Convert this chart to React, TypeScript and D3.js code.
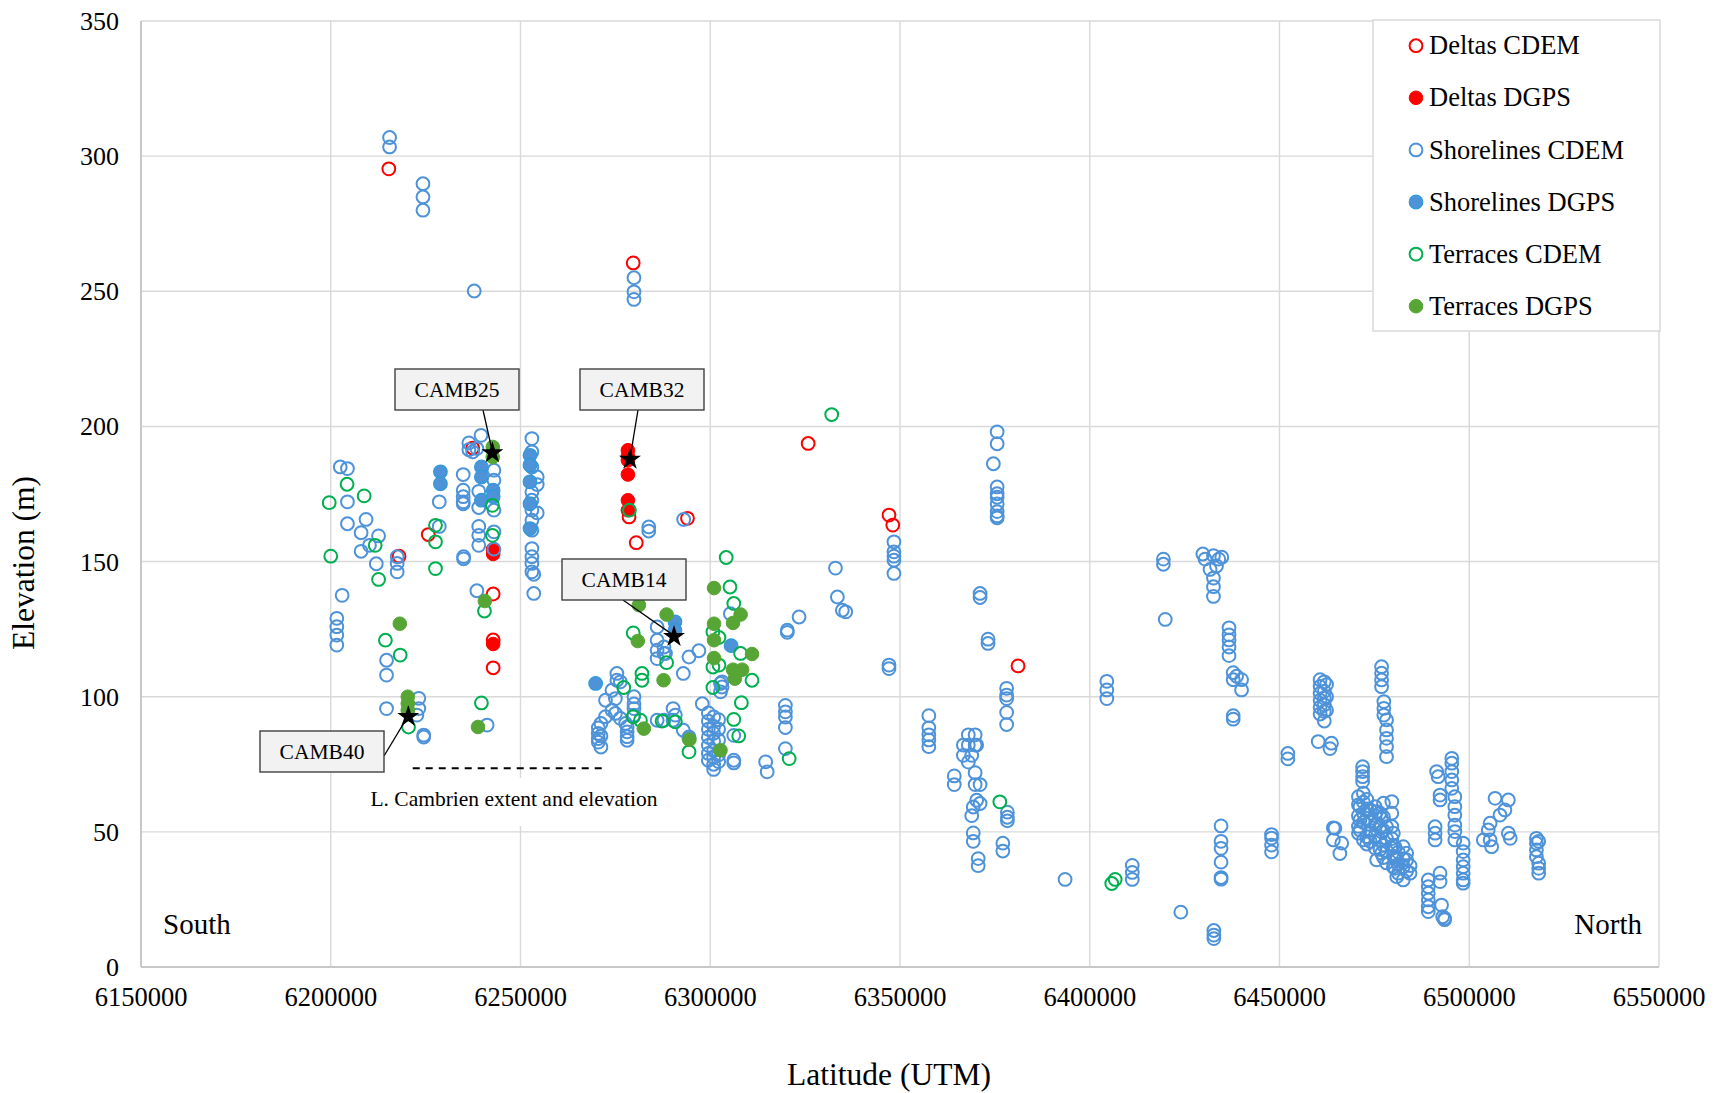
import React, { useEffect, useRef } from "react";
import * as d3 from "d3";

// [latitude (UTM), [elevations at that latitude]]
type Group = [number, number[]];

const deltasCdem: Group[] = [
  [6215300, [295.3]], [6218000, [152]], [6225700, [160]], [6237400, [192]],
  [6242800, [154.5, 138, 121, 110.7]], [6278600, [166.5]], [6279700, [260.5]],
  [6280500, [157]], [6294000, [166]], [6325800, [193.7]], [6347100, [167.2]],
  [6348100, [163.5]], [6381100, [111.4]],
];

const deltasDgps: Group[] = [
  [6278300, [191.2, 189, 187.5, 182.2, 172.7, 169]],
  [6242800, [154, 152.8, 119.5]],
];

const shorelinesCdem: Group[] = [
  [6201600, [129, 125.9, 122.8, 119.1]], [6202500, [185]], [6203000, [137.5]],
  [6204400, [184.4, 172.1, 164]], [6208000, [160.7, 153.8]], [6209300, [165.6]],
  [6210200, [156]], [6212000, [149.2]], [6212600, [159.5]], [6214700, [113.5, 108, 95.6]],
  [6215500, [306.9, 303.4]], [6217500, [151.8, 149.3, 146.2]], [6222700, [93.2]],
  [6223200, [99.4, 95.6]], [6224500, [85.8, 85.1]], [6224300, [289.8, 284.9, 280]],
  [6228600, [172.1, 163]], [6234900, [182.2, 176.4, 174, 172.1, 171.4]], [6235000, [151.8, 151]],
  [6236400, [193.9, 191.4]], [6237400, [190.6]], [6237800, [250.1]], [6238500, [191.8, 139.2]],
  [6239000, [176, 170, 163, 159.7, 156]], [6239600, [196.7]], [6241200, [89.5]],
  [6243000, [183.8, 180.1, 169, 161, 154.6]],
  [6253000, [195.5, 190.6, 185, 175.7, 172.7, 169, 165.3, 161.6, 154.8, 151.8, 149.3, 146.2]],
  [6254400, [181.3, 178.5, 168]], [6253500, [145.3, 138.2]],
  [6279900, [255, 249.8, 247]], [6283800, [162.8, 161.3]], [6293000, [165.6]],
  [6270500, [88.5, 86.4, 84.5, 83.2]], [6271200, [90.1, 85.5, 81.4]], [6272400, [98.7, 92.6]],
  [6274100, [102.4, 95]], [6275000, [99.3, 93.8]], [6275400, [108.6, 106.1]],
  [6276300, [105.5, 92]], [6277700, [90.1]], [6278100, [88.8, 87, 85.2, 83.9]],
  [6279900, [100, 97.3, 95.6, 93.2]], [6286000, [125.8, 120.9, 117.2, 114.1, 91.3]],
  [6287800, [116, 118.4, 91.3]], [6288200, [116]], [6290200, [95.6, 91.3]], [6290800, [93.2]],
  [6292900, [108.6, 87.6]], [6294400, [114.7, 85.1, 84.5]], [6297000, [117]], [6297900, [97.4]],
  [6299500, [94, 91, 88, 85, 82, 79, 76.5]], [6300900, [92.5, 89, 86.5, 83.5, 80, 77.5, 75, 73.1]],
  [6302200, [91.5, 88, 84, 78.5, 76]], [6302700, [104.9, 101.8]], [6303100, [105.5, 103.6]],
  [6305300, [130.7]], [6306200, [85.7, 76.5, 75.5]], [6314600, [75.9]], [6315000, [72.2]],
  [6319800, [96.8, 94.4, 92.5, 88.6, 80.8]], [6320300, [124.6, 123.8]], [6323400, [129.5]],
  [6333000, [147.6]], [6333500, [136.9]], [6334800, [132]], [6335700, [131.4]],
  [6347100, [111.7, 110.4]], [6348400, [157.3, 153.6, 152, 150.5, 145.6]],
  [6357600, [93, 88.5, 85.9, 84, 81.5]], [6364300, [70.7, 67.5]], [6366700, [82.1, 78.3]],
  [6368000, [85.9, 82.1, 75.8]], [6368900, [78.3, 56]], [6369300, [59.2, 49.6, 46.5]],
  [6369800, [85.9, 82.1, 71.9, 67.5]], [6370200, [82.1, 61.7]], [6370600, [40.1, 37.5]],
  [6371100, [138.2, 136.7, 67.5, 60.5]], [6373200, [121.3, 119.7]], [6374600, [186.2]],
  [6375600, [198, 193.6, 177.6, 175.1, 173.8, 171.3, 168.5, 166.9, 166.2]],
  [6377100, [45.8, 42.9]], [6378100, [103.1, 100.6, 99.3, 94.2, 89.7]], [6378300, [57.3, 55.4, 54.1]],
  [6393500, [32.4]], [6404500, [105.7, 102.5, 99.3]], [6411200, [37.6, 35, 32.4]],
  [6419400, [150.9, 149]], [6419900, [128.6]], [6424000, [20.3]], [6429800, [152.8]],
  [6430400, [150.9]], [6431700, [147.1]], [6432600, [152.2, 143.9, 140.7, 137.1]],
  [6432700, [13.5, 11.8, 10.5]], [6433400, [148.4]], [6434000, [150.9]], [6434800, [151.6]],
  [6434600, [52.2, 46.5, 43.9, 38.8, 33.1, 32.5]], [6436700, [125.5, 122.9, 121, 118.4, 115.2]],
  [6437800, [108.9, 106.3, 93, 91.7]], [6438700, [107.6]], [6440000, [106.3, 102.5]],
  [6447900, [49, 47.7, 45.1, 42.6]], [6452200, [79, 77]], [6460200, [83.4]],
  [6460700, [106.3, 103.8, 101.2, 98.7, 96.1, 93.6]], [6461800, [105.5, 102, 99.5, 97, 94.5, 91]],
  [6462400, [104.5, 100, 95]], [6463300, [80.8]], [6463700, [82.8]], [6464200, [51.5, 47]],
  [6464600, [51.3]], [6465900, [42]], [6466400, [45.8]], [6471900, [74.1, 72.3, 70.4, 68.6]],
  [6470800, [63, 60, 56, 52, 49.5]], [6471200, [59.3, 54.4, 50.7]], [6472100, [64.3, 61, 57, 53.5, 47]],
  [6473000, [62, 58.5, 55, 48.2, 45.5]], [6473900, [58.1, 54, 50.5, 46.5]],
  [6475200, [59.3, 56, 52.5, 48.5, 44]], [6475600, [57.5, 53, 39.6]], [6476500, [56.9, 52, 47, 43.5]],
  [6476900, [55, 50, 42.1]], [6477400, [60.6, 55.5, 50.5, 45, 40.5]], [6478200, [51.9, 47.5, 43, 38.5]],
  [6479600, [61.2, 56.9, 52, 47.5, 44]], [6480000, [49.5, 45, 41, 37]], [6480400, [44.5, 40.5, 36.5]],
  [6480900, [39.6, 33.4]], [6481300, [34.7, 38, 42.5]], [6482600, [44.5, 37.1, 32.2, 40]],
  [6483500, [42.1, 39.6, 35.5]], [6484400, [34.7, 37.5]],
  [6476900, [111.1, 108.7, 106.2, 103.7]], [6477500, [98.2, 95.7, 93.2]],
  [6478200, [91.4, 87.7, 84.6, 81.5, 77.8]],
  [6489200, [32.2, 29.7, 27.3, 24.8, 22.3, 20.5]], [6491000, [51.9, 49.5, 47]], [6491400, [72.3]],
  [6491800, [70.4]], [6492300, [63.6, 61.8, 34.7, 31.6]], [6492700, [22.9]], [6493000, [18.6]],
  [6493500, [18, 17.5]], [6495400, [77.2, 75.4, 72.3, 69.2, 66.1]],
  [6496200, [63, 59.3, 56.2, 52.5, 50.1, 47]], [6498400, [45.8, 42.7, 39.6, 37.1, 34.7, 32.2, 31]],
  [6503700, [47]], [6505000, [50.7]], [6505500, [53.2, 47]], [6505900, [44.5]], [6506800, [62.4]],
  [6508100, [56.2]], [6509400, [58.1]], [6510300, [61.8, 49.5]], [6510800, [47.6]],
  [6517700, [47.6, 45.8, 43.3, 40.8]], [6518300, [46.5, 38.4, 36.5, 34.7]],
];

const shorelinesDgps: Group[] = [
  [6228900, [183.2, 178.8]], [6239700, [185, 181.3, 172.7]], [6242800, [176.4, 174]],
  [6252500, [189.3, 185.7, 179.5, 171.4, 162.2]], [6269800, [104.9]],
  [6290700, [127.7, 124.6]], [6305500, [118.9]],
];

const terracesCdem: Group[] = [
  [6199600, [171.8]], [6200000, [152]], [6204300, [178.6]], [6208800, [174.3]], [6211700, [156]],
  [6212600, [143.4]], [6214400, [120.9]], [6218300, [115.4]], [6220500, [88.8]],
  [6227600, [163.4, 157.3, 147.4]], [6239700, [97.7]], [6240500, [131.7]], [6242600, [170.8, 159.7]],
  [6278700, [169]], [6277200, [103.4]], [6279700, [123.6, 92.6]], [6281600, [91.3]],
  [6282000, [108.6, 106.1]], [6287300, [91]], [6288500, [112.6]], [6290800, [90.7]],
  [6294400, [79.6]], [6300700, [124, 111, 103.4]], [6302300, [121.9, 111.7]], [6304200, [151.5]],
  [6305200, [140.6]], [6306200, [134.5, 91.6]], [6307500, [85.5]], [6308000, [116]],
  [6308200, [97.8]], [6311000, [106.1]], [6320800, [77.1]], [6332000, [204.4]], [6376300, [61.1]],
  [6405800, [30.9]], [6406700, [32.4]],
];

const terracesDgps: Group[] = [
  [6218200, [127]], [6220300, [100, 97.5, 95]], [6238800, [88.8]], [6240600, [135.4]],
  [6242700, [192.4, 188.7]], [6280900, [120.6]], [6281200, [133.9]], [6282500, [88.2]],
  [6287700, [106.1]], [6288500, [130.4]], [6294500, [84.1]], [6301000, [140.2, 127, 120.9, 114.3]],
  [6302700, [80.2]], [6306000, [127.3, 110]], [6306500, [106.7]], [6308000, [130.4]],
  [6308400, [110]], [6311000, [115.8]],
];

const sites = [
  { name: "CAMB25", lat: 6242600, elev: 190.6 },
  { name: "CAMB32", lat: 6278850, elev: 188.2 },
  { name: "CAMB14", lat: 6290450, elev: 122.6 },
  { name: "CAMB40", lat: 6220430, elev: 93 },
];

const cambrien = { from: 6221600, to: 6271600, elev: 73.5, label: "L. Cambrien extent and elevation" };

const xTicks = [6150000, 6200000, 6250000, 6300000, 6350000, 6400000, 6450000, 6500000, 6550000];
const yTicks = [0, 50, 100, 150, 200, 250, 300, 350];

const FONT = "'Liberation Serif', 'Times New Roman', serif";

const App = () => {
  const ref = useRef<SVGSVGElement>(null);

  useEffect(() => {
    const svg = d3.select(ref.current);
    svg.selectAll("*").remove();

    const x = d3.scaleLinear().domain([6150000, 6550000]).range([141, 1659]);
    const y = d3.scaleLinear().domain([0, 350]).range([967, 21]);

    const series = [
      { name: "Deltas CDEM", data: deltasCdem, fill: "none", stroke: "#FF0000", sw: 2, r: 6.4 },
      { name: "Deltas DGPS", data: deltasDgps, fill: "#FF0000", stroke: "#FF0000", sw: 1, r: 6.8 },
      { name: "Shorelines CDEM", data: shorelinesCdem, fill: "none", stroke: "#4E93D9", sw: 2, r: 6.4 },
      { name: "Shorelines DGPS", data: shorelinesDgps, fill: "#4E92D8", stroke: "#2E9BD8", sw: 1.2, r: 6.8 },
      { name: "Terraces CDEM", data: terracesCdem, fill: "none", stroke: "#00B050", sw: 2, r: 6.4 },
      { name: "Terraces DGPS", data: terracesDgps, fill: "#57A635", stroke: "#57A635", sw: 1, r: 6.8 },
    ];

    // grid
    const grid = svg.append("g");
    grid.selectAll("line.v")
      .data(xTicks)
      .join("line")
      .attr("x1", d => x(d)).attr("x2", d => x(d))
      .attr("y1", y(0)).attr("y2", y(350))
      .attr("stroke", "#D9D9D9").attr("stroke-width", 1.4);
    grid.selectAll("line.h")
      .data(yTicks)
      .join("line")
      .attr("x1", x(6150000)).attr("x2", x(6550000))
      .attr("y1", d => y(d)).attr("y2", d => y(d))
      .attr("stroke", "#D9D9D9").attr("stroke-width", 1.4);
    grid.append("line")
      .attr("x1", x(6150000)).attr("x2", x(6550000))
      .attr("y1", y(0)).attr("y2", y(0))
      .attr("stroke", "#C8C8C8").attr("stroke-width", 2);
    grid.append("line")
      .attr("x1", x(6150000)).attr("x2", x(6150000))
      .attr("y1", y(0)).attr("y2", y(350))
      .attr("stroke", "#C8C8C8").attr("stroke-width", 2);

    // tick labels
    svg.append("g")
      .style("font", `26.5px ${FONT}`)
      .selectAll("text")
      .data(xTicks)
      .join("text")
      .attr("x", d => x(d)).attr("y", 1006)
      .attr("text-anchor", "middle")
      .text(d => d);
    svg.append("g")
      .style("font", `26px ${FONT}`)
      .selectAll("text")
      .data(yTicks)
      .join("text")
      .attr("x", 119).attr("y", d => y(d) + 9)
      .attr("text-anchor", "end")
      .text(d => d);

    // axis titles
    svg.append("text")
      .attr("x", 889).attr("y", 1085)
      .attr("text-anchor", "middle")
      .style("font", `31.5px ${FONT}`)
      .text("Latitude (UTM)");
    svg.append("text")
      .attr("transform", "translate(34,563) rotate(-90)")
      .attr("text-anchor", "middle")
      .style("font", `31.5px ${FONT}`)
      .text("Elevation (m)");

    svg.append("text").attr("x", 163).attr("y", 934)
      .style("font", `29px ${FONT}`).text("South");
    svg.append("text").attr("x", 1642).attr("y", 934)
      .attr("text-anchor", "end")
      .style("font", `29px ${FONT}`).text("North");

    // L. Cambrien line + label
    svg.append("rect")
      .attr("x", 368).attr("y", 778).attr("width", 292).attr("height", 48)
      .attr("fill", "#fff");
    svg.append("line")
      .attr("x1", x(cambrien.from)).attr("x2", x(cambrien.to))
      .attr("y1", y(cambrien.elev)).attr("y2", y(cambrien.elev))
      .attr("stroke", "#000").attr("stroke-width", 2)
      .attr("stroke-dasharray", "7 6");
    svg.append("text")
      .attr("x", 514).attr("y", 806)
      .attr("text-anchor", "middle")
      .style("font", `21.5px ${FONT}`)
      .text(cambrien.label);

    // points
    series.forEach(s => {
      const pts = s.data.flatMap(([lat, elevs]) => elevs.map(e => [lat, e]));
      svg.append("g")
        .selectAll("circle")
        .data(pts)
        .join("circle")
        .attr("cx", d => x(d[0]))
        .attr("cy", d => y(d[1]))
        .attr("r", s.r)
        .attr("fill", s.fill)
        .attr("stroke", s.stroke)
        .attr("stroke-width", s.sw);
    });

    // site labels
    const boxes: Record<string, { bx: number; by: number; lx: number; ly: number }> = {
      CAMB25: { bx: 395, by: 369, lx: 483, ly: 410 },
      CAMB32: { bx: 580, by: 369, lx: 638, ly: 410 },
      CAMB14: { bx: 562, by: 559, lx: 623, ly: 600 },
      CAMB40: { bx: 260, by: 731, lx: 384, ly: 756 },
    };
    const star = d3.symbol().type(d3.symbolStar).size(150);
    sites.forEach(s => {
      const b = boxes[s.name];
      svg.append("line")
        .attr("x1", b.lx).attr("y1", b.ly)
        .attr("x2", x(s.lat)).attr("y2", y(s.elev))
        .attr("stroke", "#000").attr("stroke-width", 1.3);
      svg.append("rect")
        .attr("x", b.bx).attr("y", b.by).attr("width", 124).attr("height", 41)
        .attr("fill", "#F2F2F2").attr("stroke", "#404040").attr("stroke-width", 1.4);
      svg.append("text")
        .attr("x", b.bx + 62).attr("y", b.by + 28)
        .attr("text-anchor", "middle")
        .style("font", `21.5px ${FONT}`)
        .text(s.name);
      svg.append("path")
        .attr("d", star())
        .attr("transform", `translate(${x(s.lat)},${y(s.elev) + 1})`)
        .attr("fill", "#000");
    });

    // legend
    const lg = svg.append("g");
    lg.append("rect")
      .attr("x", 1373).attr("y", 20).attr("width", 287).attr("height", 311)
      .attr("fill", "#fff").attr("stroke", "#D9D9D9").attr("stroke-width", 1.5);
    series.forEach((s, i) => {
      const cy = 45.7 + i * 52.1;
      lg.append("circle")
        .attr("cx", 1416).attr("cy", cy).attr("r", s.r)
        .attr("fill", s.fill).attr("stroke", s.stroke).attr("stroke-width", s.sw);
      lg.append("text")
        .attr("x", 1429).attr("y", cy + 8.6)
        .style("font", `26.5px ${FONT}`)
        .text(s.name);
    });
  }, []);

  return (
    <svg
      ref={ref}
      width={1725}
      height={1093}
      style={{ position: "absolute", left: 0, top: 0, background: "#fff" }}
    />
  );
};

export default App;
